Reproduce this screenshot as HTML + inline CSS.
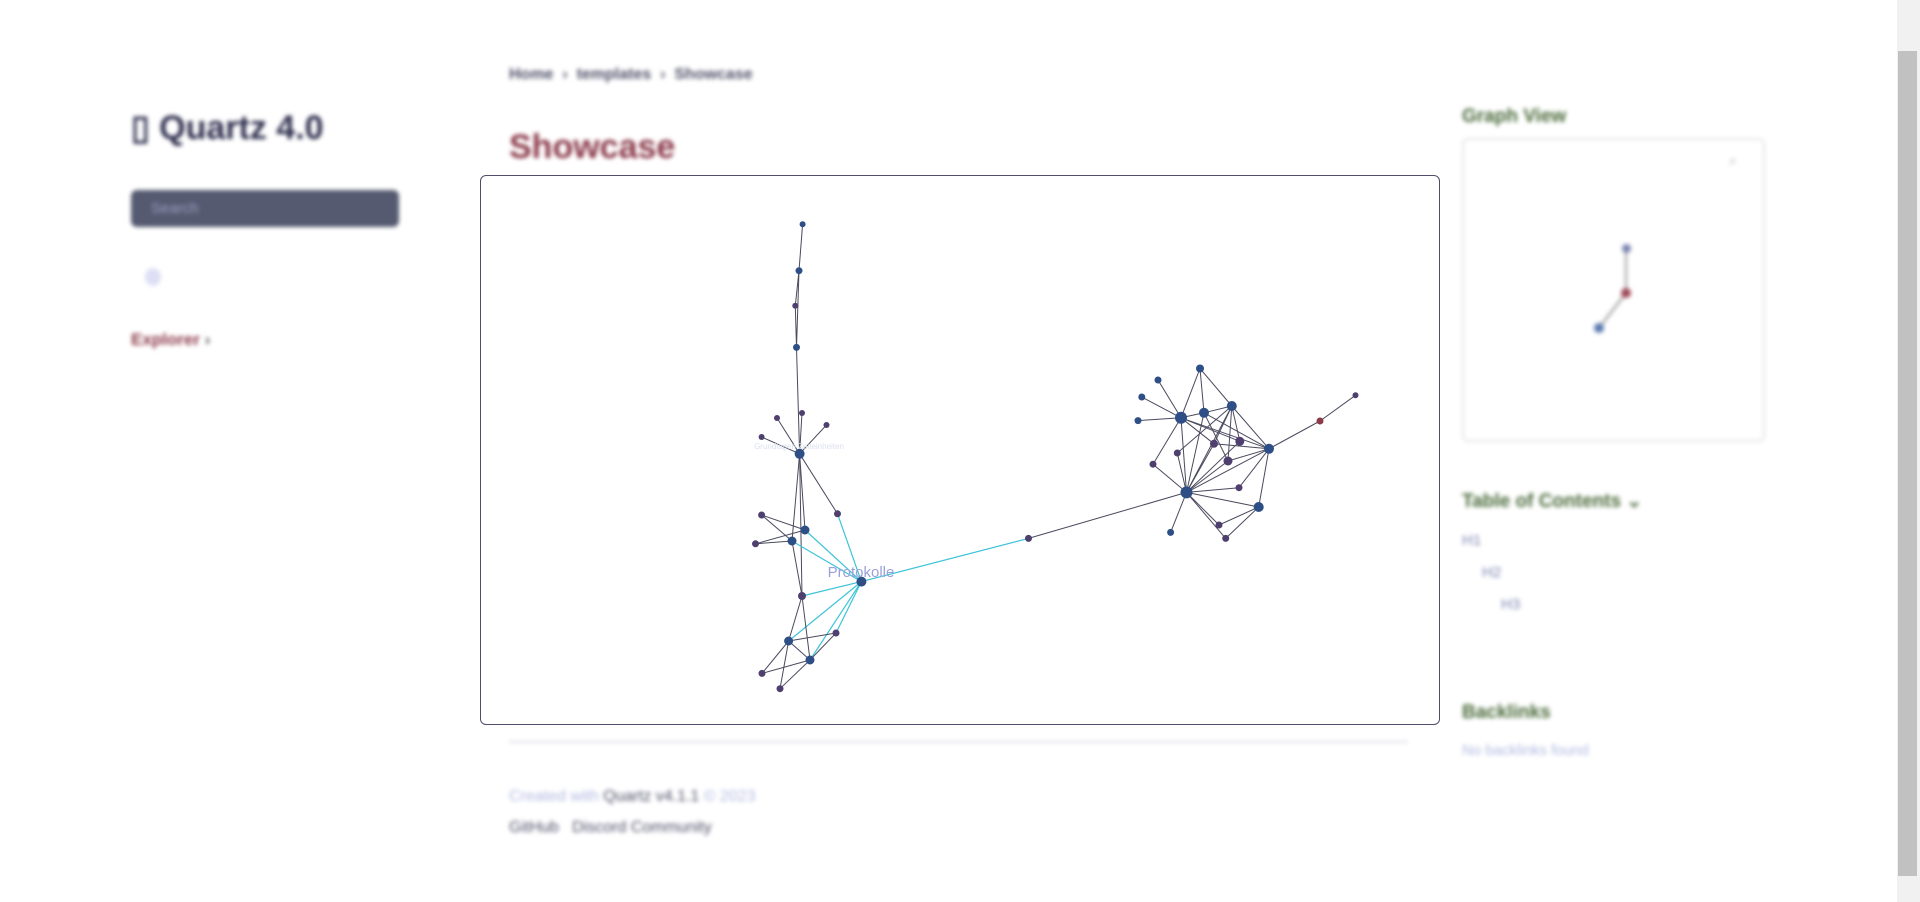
<!DOCTYPE html>
<html><head><meta charset="utf-8"><style>
html,body{margin:0;padding:0;width:1920px;height:902px;overflow:hidden;background:#fff;font-family:"Liberation Sans",sans-serif}
.bl{position:absolute;filter:blur(2px);white-space:nowrap}
</style></head><body>
<div class="bl" style="left:131px;top:108px;font-size:34px;font-weight:bold;color:#2e2f4e">▯ Quartz 4.0</div>
<div class="bl" style="left:131px;top:190px;width:268px;height:37px;background:#555a70;border-radius:6px;color:#9aa0c0;font-size:15px;line-height:37px;text-indent:20px">Search</div>
<div class="bl" style="left:145px;top:268px;width:16px;height:18px;border-radius:50%;background:#dde0f4"></div>
<div class="bl" style="left:131px;top:330px;font-size:17px;font-weight:bold;color:#8b3a4a">Explorer <span style="color:#555">›</span></div>
<div class="bl" style="left:509px;top:66px;font-size:16px;font-weight:bold;color:#50506a">Home &nbsp;›&nbsp; templates &nbsp;›&nbsp; Showcase</div>
<div class="bl" style="left:509px;top:128px;font-size:34px;font-weight:bold;color:#8b3a4a">Showcase</div>
<div class="bl" style="left:509px;top:741px;width:899px;height:2px;background:#e2e2e8"></div>
<div class="bl" style="left:509px;top:788px;font-size:16px;color:#b0b8e0">Created with <span style="color:#50506a">Quartz v4.1.1</span> © 2023</div>
<div class="bl" style="left:509px;top:819px;font-size:16px;color:#50506a">GitHub &nbsp; Discord Community</div>
<div class="bl" style="left:1462px;top:106px;font-size:19px;font-weight:bold;color:#4a6a3a">Graph View</div>
<div class="bl" style="left:1462px;top:138px;width:299px;height:300px;border:2px solid #e6e6ea;border-radius:6px">
<svg width="299" height="300" style="position:absolute;left:0;top:0"><line x1="162" y1="108" x2="162" y2="153" stroke="#777" stroke-width="1.5"/><line x1="162" y1="153" x2="135" y2="188" stroke="#777" stroke-width="1.5"/></svg>
<div style="position:absolute;left:158px;top:104px;width:9px;height:9px;border-radius:50%;background:#7a82b0"></div>
<div style="position:absolute;left:157px;top:148px;width:10px;height:10px;border-radius:50%;background:#a04a5a"></div>
<div style="position:absolute;left:130px;top:183px;width:10px;height:10px;border-radius:50%;background:#5a7ab0"></div>
<div style="position:absolute;left:265px;top:12px;font-size:14px;color:#aaa">⌕</div></div>
<div class="bl" style="left:1462px;top:490px;font-size:19px;font-weight:bold;color:#4a6a3a">Table of Contents ⌄</div>
<div class="bl" style="left:1462px;top:532px;font-size:15px;color:#7a82b0">H1</div>
<div class="bl" style="left:1482px;top:564px;font-size:15px;color:#7a82b0">H2</div>
<div class="bl" style="left:1501px;top:596px;font-size:15px;color:#7a82b0">H3</div>
<div class="bl" style="left:1462px;top:702px;font-size:19px;font-weight:bold;color:#4a6a3a">Backlinks</div>
<div class="bl" style="left:1462px;top:742px;font-size:15px;color:#b0b8e0">No backlinks found</div>
<div style="position:absolute;left:1897px;top:0;width:23px;height:902px;background:#f1f1f1">
<div style="position:absolute;left:1px;top:51px;width:19px;height:825px;background:#c1c1c1"></div></div>
<div style="position:absolute;left:480px;top:175px;width:958px;height:548px;border:1px solid #4e4e6a;border-radius:6px"></div>
<svg id="g" width="1920" height="902" style="position:absolute;left:0;top:0"></svg>
<script>
const nodeIds=["A","B","C","D","E","e1","e2","e3","e4","F","G","H","I","J","P","K","L","M","N","O","Q","R","S","T","U","V","W","X","Y","Z","AA","AB","p1","p2","p3","p4","p5","p6","p7","p8","b1","red","rp"];
const nodeX=[802.6,799,795.3,796.5,799.6,777,802,826.5,761.6,837.5,805,792,761.6,755.5,861.4,802,788.6,836,810,762,780,1028.5,1186.5,1181,1204,1231.8,1200,1158,1141.8,1138,1269,1258.7,1214,1239.8,1228,1177.3,1153,1239,1219,1225.7,1170.6,1320,1355.5];
const nodeY=[224.3,270.7,305.7,347.4,453.8,418,413,425,437,513.8,530,541,515,543.8,581.6,596,641,633,660,673.4,688.7,538.4,492.4,417.8,412.8,406,368.5,380,397,420.6,448.8,507,443.8,441.3,461,453,464.2,487.7,525,538.4,532.4,421,395.3];
const nodeType=["b","b","p","b","b","p","p","p","p","p","b","b","p","p","b","p","b","p","b","p","p","p","b","b","b","b","b","b","b","b","b","b","p","p","p","p","p","p","p","p","b","r","p"];
const nodeSize=[3,3.5,3,3.5,5,3,3,3,3,3.5,4.5,4.5,3.5,3.5,5,4,4.5,3.5,4.5,3.5,3.5,3.5,6,6,5,5,4,3.5,3.5,3.5,5,5,4,4.5,4.5,3.5,3.5,3.5,3.5,3.5,3.5,3.5,3];
const edgeList=["A-B","B-C","C-D","B-D","D-E","E-e1","E-e2","E-e3","E-e4","E-F","E-G","E-H","E-K","F-P","G-P","H-P","K-P","L-P","N-P","M-P","P-R","I-G","I-H","J-G","J-H","H-K","K-L","K-N","L-M","M-N","L-N","L-O","O-N","L-Q","N-Q","R-S",
"S-T","S-U","S-V","S-AA","S-AB","S-p1","S-p2","S-p3","S-p4","S-p5","S-p6","S-p7","S-p8","S-b1","T-X","T-Y","T-Z","T-W","W-U","W-V","T-U","U-V","T-AA","U-AA","V-AA","V-p1","V-p2","V-p3","AA-AB","AA-p1","AA-p3","AA-p6","AB-p7","AB-p8","T-p1","T-p2","U-p3","AA-red","red-rp","T-p5","V-p4"];
const hiEdges=["F-P","G-P","H-P","K-P","L-P","N-P","M-P","P-R"];
const colors={b:"#2d4f86",p:"#4e3f6e",r:"#8b3a4a"};
const svg=document.getElementById('g');const NS="http://www.w3.org/2000/svg";
const idx=id=>nodeIds.indexOf(id);
edgeList.forEach(e=>{const [a,b]=e.split('-');const i=idx(a),j=idx(b);
const l=document.createElementNS(NS,'line');


l.setAttribute('x1',nodeX[i]);l.setAttribute('y1',nodeY[i]);l.setAttribute('x2',nodeX[j]);l.setAttribute('y2',nodeY[j]);
const hi=hiEdges.includes(e);l.setAttribute('stroke',hi?'#3cc3d8':'#4a4a5e');l.setAttribute('stroke-width',hi?1.2:1);svg.appendChild(l);});
nodeIds.forEach((id,i)=>{const c=document.createElementNS(NS,'circle');


c.setAttribute('cx',nodeX[i]);c.setAttribute('cy',nodeY[i]);c.setAttribute('r',nodeSize[i]);c.setAttribute('fill',colors[nodeType[i]]);svg.appendChild(c);});
const t=document.createElementNS(NS,'text');


t.setAttribute('x',861);t.setAttribute('y',577);t.setAttribute('text-anchor','middle');t.setAttribute('font-size','15');t.setAttribute('fill','#9aa0d8');t.setAttribute('font-family','Liberation Sans, sans-serif');t.textContent='Protokolle';svg.appendChild(t);
const t2=document.createElementNS(NS,'text');


t2.setAttribute('x',799);t2.setAttribute('y',449);t2.setAttribute('text-anchor','middle');t2.setAttribute('font-size','8');t2.setAttribute('fill','#dde0f0');t2.setAttribute('font-family','Liberation Sans, sans-serif');t2.textContent='Grundlagen Zeiteinheiten';svg.appendChild(t2);
</script>
</body></html>
